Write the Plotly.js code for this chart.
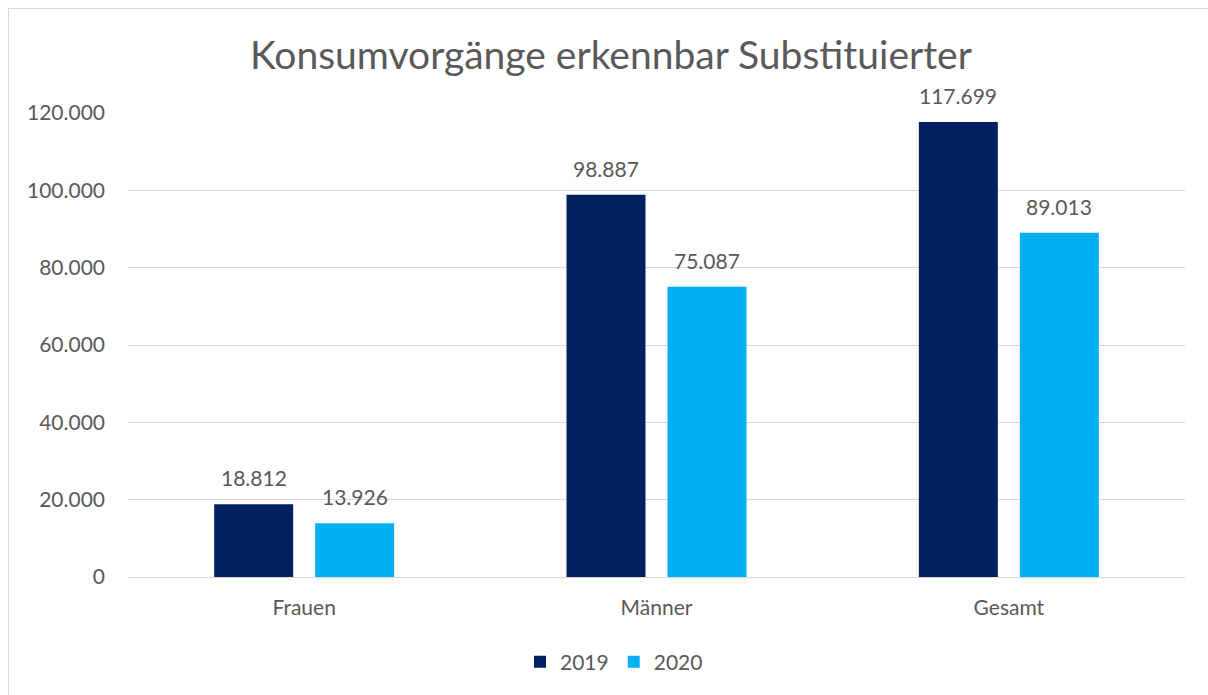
<!DOCTYPE html>
<html>
<head>
<meta charset="utf-8">
<script src="https://cdn.plot.ly/plotly-3.0.1.min.js"></script>
<style>
  html, body { margin: 0; padding: 0; background: #ffffff; overflow: hidden; }
  #frame { position: absolute; left: 8px; top: 8px; width: 1210px; height: 700px;
           border: 1px solid #d9d9d9; background: #ffffff; }
  #chart { width: 1199px; height: 686px; }
</style>
</head>
<body>
<div id="frame"><div id="chart"></div></div>
<script>
const categories = ["Frauen", "Männer", "Gesamt"];
const seriesNames = ["2019", "2020"];
const values2019 = [18812, 98887, 117699];
const values2020 = [13926, 75087, 89013];
const yTickVals = [0, 20000, 40000, 60000, 80000, 100000, 120000];
const titleText = "Konsumvorgänge erkennbar Substituierter";

const colors = ["#002060", "#00B0F0"];
const textColor = "#595959";
const fontFamily = "Lato, 'Open Sans', sans-serif";

const seriesValues = [values2019, values2020];
const traces = seriesValues.map((vals, i) => ({
  type: "bar",
  name: seriesNames[i],
  x: categories,
  y: vals,
  marker: { color: colors[i], line: { width: 0 } },
  hoverinfo: "none"
}));

const annotations = [];
seriesValues.forEach((vals, i) => {
  vals.forEach((v, j) => {
    annotations.push({
      x: categories[j], y: v, xref: "x", yref: "y",
      text: v.toLocaleString("de-DE"),
      showarrow: false, yanchor: "bottom", xanchor: "center",
      xshift: i === 0 ? -50.5 : 50.5, yshift: 12,
      font: { family: fontFamily, size: 21, color: textColor }
    });
  });
});

const layout = {
  width: 1199, height: 686,
  margin: { l: 119, r: 23, t: 104, b: 118 },
  paper_bgcolor: "#ffffff", plot_bgcolor: "#ffffff",
  separators: ",.",
  font: { family: fontFamily, size: 21, color: textColor },
  title: {
    text: titleText,
    font: { family: fontFamily, size: 39, color: textColor },
    xref: "container", x: 0.502, xanchor: "center",
    yref: "container", y: 1 - 46 / 686, yanchor: "middle"
  },
  barmode: "group",
  bargap: 0.4267,
  bargroupgap: 0.218,
  xaxis: {
    type: "category",
    showgrid: false,
    showline: true, linecolor: "#d9d9d9", linewidth: 1,
    ticks: "", ticklabelstandoff: 12,
    tickfont: { family: fontFamily, size: 21, color: textColor },
    fixedrange: true
  },
  yaxis: {
    range: [0, 120000],
    tickvals: yTickVals,
    tickformat: ",d",
    showgrid: true, gridcolor: "#d9d9d9", gridwidth: 1,
    zeroline: false, showline: false,
    ticks: "", ticklabelstandoff: 22,
    tickfont: { family: fontFamily, size: 21, color: textColor },
    fixedrange: true
  },
  showlegend: true,
  legend: {
    orientation: "h",
    xref: "container", x: 605 / 1199, xanchor: "center",
    yref: "container", y: 1 - 653 / 686, yanchor: "middle",
    font: { family: fontFamily, size: 21, color: textColor },
    itemclick: false, itemdoubleclick: false
  },
  annotations: annotations
};

Plotly.newPlot("chart", traces, layout, { displayModeBar: false, staticPlot: true });
</script>
</body>
</html>
